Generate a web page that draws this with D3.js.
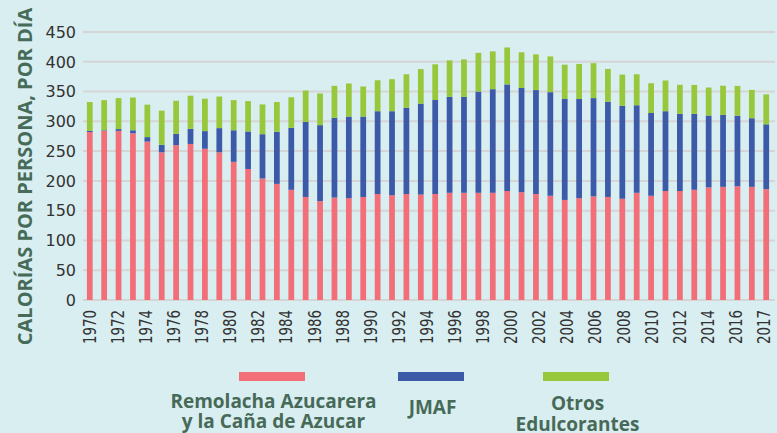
<!DOCTYPE html>
<html><head><meta charset="utf-8">
<script src="https://cdn.jsdelivr.net/npm/d3@7"></script>
<style>
html,body{margin:0;padding:0;background:#d9eef1;}
svg{display:block;}
</style></head>
<body>
<svg id="chart" width="777" height="433"></svg>
<script>
const years = d3.range(1970, 2018).map(String);
const sugar = [282,284,284,280,266,248,260,262,254,248,232,220,204,195,185,173,166,172,171,173,178,176,178,177,178,180,180,180,180,183,181,178,175,168,171,174,173,170,180,175,183,183,185,189,190,191,190,186];
const jmaf  = [2,1,3,5,7.5,12.6,19,25.5,29.6,40.6,53,63,74.4,87.4,104,126,127.6,134,137,135,139,141,145,152.7,157.8,161,161,170,174,179,175,174.5,174,169.5,166.6,165,160,156,147,139,134,129.6,127.4,120.8,120.8,118.5,115.2,109];
const otros = [48.4,50.6,52,55,54.5,57.4,55.5,55.5,54.4,53,50.6,51,50,50,51.4,52.8,53.2,53.6,55.5,50.5,52,53.8,56,58,60,61.4,63,65,63.5,62,60,60,60,57.6,58.8,58.7,55,52.5,52,50,51.6,48.7,48.7,47,49,50,47.6,50.3];
const yTicks = [0,50,100,150,200,250,300,350,400,450];
const xTickLabels = ["1970","1972","1974","1976","1978","1980","1982","1984","1986","1988","1990","1992","1994","1996","1998","2000","2002","2004","2006","2008","2010","2012","2014","2016","2017"];
const seriesKeys = ["sugar","jmaf","otros"];
const seriesNames = [["Remolacha Azucarera","y la Caña de Azucar"],["JMAF"],["Otros","Edulcorantes"]];
const colors = ["#f26e78","#3d5aa8","#97c83c"];

const svg = d3.select("#chart");
const L = 83, R = 773, T = 32, B = 300;

const rows = years.map((y,i)=>({year:y, sugar:sugar[i], jmaf:jmaf[i], otros:otros[i]}));
const stack = d3.stack().keys(seriesKeys)(rows);

const x = d3.scaleBand().domain(years).range([L,R]).paddingInner(0.6).paddingOuter(0.27);
const y = d3.scaleLinear().domain([0,450]).range([B,T]);

// gridlines
svg.append("g").selectAll("line").data(yTicks).join("line")
  .attr("x1",L).attr("x2",R+2)
  .attr("y1",d=>y(d)).attr("y2",d=>y(d))
  .attr("stroke","#d5d5d5").attr("stroke-width",2);

// y tick labels
svg.append("g").selectAll("text").data(yTicks).join("text")
  .attr("x",L-7).attr("y",d=>y(d)).attr("dy","0.36em")
  .attr("text-anchor","end")
  .style("font-family","'DejaVu Sans', sans-serif").style("font-size","16px")
  .attr("fill","#333").text(d=>d);

// bars
svg.append("g").selectAll("g").data(stack).join("g")
  .attr("fill",(d,i)=>colors[i])
  .selectAll("rect").data(d=>d).join("rect")
  .attr("x",d=>x(d.data.year))
  .attr("width",x.bandwidth())
  .attr("y",d=>y(d[1]))
  .attr("height",d=>y(d[0])-y(d[1]));

// x labels (evenly spaced)
const xl = d3.scalePoint().domain(xTickLabels)
  .range([x(years[0])+x.bandwidth()/2-0.3, x(years[years.length-1])+x.bandwidth()/2-2.5]);
svg.append("g").selectAll("text").data(xTickLabels).join("text")
  .attr("transform",d=>`translate(${xl(d)},${B+10}) rotate(-90) scale(1,1.3)`)
  .attr("text-anchor","end").attr("dy","0.36em")
  .style("font-family","'DejaVu Sans', sans-serif").style("font-size","13.4px")
  .attr("fill","#333").text(d=>d);

// y title
svg.append("text")
  .attr("transform",`translate(32,176.5) rotate(-90)`)
  .attr("text-anchor","middle")
  .style("font-family","'Open Sans', sans-serif").style("font-size","20px").style("font-weight","700")
  .attr("fill","#466b58").text("CALORÍAS POR PERSONA, POR DÍA");

// legend
const legX = [272,431,576];
const legBase = [[408,428],[414],[410,431]];
const lg = svg.append("g").selectAll("g").data(seriesKeys).join("g");
lg.append("rect").attr("x",(d,i)=>legX[i]-33).attr("y",372).attr("width",66).attr("height",9)
  .attr("fill",(d,i)=>colors[i]);
lg.each(function(d,i){
  const g = d3.select(this);
  seriesNames[i].forEach((t,j)=>{
    g.append("text").attr("x",legX[i]+1.5).attr("y",legBase[i][j])
      .attr("text-anchor","middle")
      .style("font-family","'Open Sans', sans-serif").style("font-size","19px").style("font-weight","700")
      .attr("fill","#476a58").text(t);
  });
});
</script>
</body></html>
